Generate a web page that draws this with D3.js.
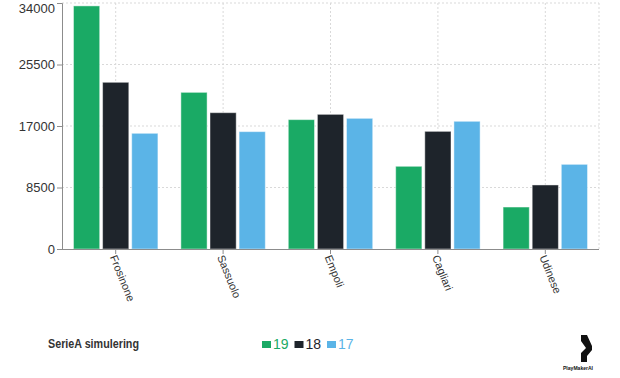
<!DOCTYPE html>
<html lang="en">
<head>
    <meta charset="UTF-8">
    <title>SerieA simulering</title>
    <script src="https://d3js.org/d3.v7.min.js"></script>
    <style>
        body {
            margin: 0;
            background-color: #ffffff;
            font-family: "Liberation Sans", Arial, sans-serif;
        }
        .grid line {
            stroke: #d9d9d9;
            stroke-dasharray: 2,2;
        }
        .axis path, .axis line {
            stroke: #8c8c8c;
        }
        .axis text {
            fill: #333;
        }
    </style>
</head>
<body>
    <div id="chart"></div>
    <script>
        // Data
        const teams = ["Frosinone", "Sassuolo", "Empoli", "Cagliari", "Udinese"];
        const seasons = ["19", "18", "17"];
        const values19 = [33600, 21650, 17880, 11430, 5800];
        const values18 = [23040, 18840, 18610, 16260, 8850];
        const values17 = [15990, 16220, 18060, 17650, 11700];
        const yTicks = [0, 8500, 17000, 25500, 34000];
        const colors = { "19": "#1aaa65", "18": "#1e242b", "17": "#5bb4e7" };

        const seriesValues = { "19": values19, "18": values18, "17": values17 };
        const rows = teams.map((t, i) => ({
            team: t,
            vals: seasons.map(s => ({ key: s, value: seriesValues[s][i] }))
        }));

        const W = 620, H = 378;
        const plotLeft = 62, plotRight = 599, plotTop = 3, plotBottom = 249;

        const svg = d3.select("#chart")
            .append("svg")
            .attr("width", W)
            .attr("height", H);

        const x0 = d3.scaleBand()
            .domain(teams)
            .range([plotLeft, plotRight])
            .paddingInner(0.214)
            .paddingOuter(0.107);

        const x1 = d3.scaleBand()
            .domain(seasons)
            .range([0, x0.bandwidth()])
            .paddingInner(0.1);

        const y = d3.scaleLinear()
            .domain([0, 34000])
            .range([plotBottom, plotTop]);

        // grid
        const grid = svg.append("g").attr("class", "grid");
        grid.selectAll(".hg")
            .data(yTicks.filter(d => d > 0))
            .enter().append("line")
            .attr("x1", plotLeft).attr("x2", plotRight)
            .attr("y1", d => y(d)).attr("y2", d => y(d));
        grid.selectAll(".vg")
            .data(teams)
            .enter().append("line")
            .attr("x1", d => x0(d) + x0.bandwidth() / 2)
            .attr("x2", d => x0(d) + x0.bandwidth() / 2)
            .attr("y1", plotTop).attr("y2", plotBottom);
        grid.append("line")
            .attr("x1", plotRight).attr("x2", plotRight)
            .attr("y1", plotTop).attr("y2", plotBottom);

        // bars
        const groups = svg.append("g")
            .selectAll("g")
            .data(rows)
            .enter().append("g")
            .attr("transform", d => `translate(${x0(d.team)},0)`);

        groups.selectAll("rect")
            .data(d => d.vals)
            .enter().append("rect")
            .attr("x", d => x1(d.key))
            .attr("y", d => y(d.value))
            .attr("width", x1.bandwidth())
            .attr("height", d => y(0) - y(d.value))
            .attr("fill", d => colors[d.key])
            .attr("stroke", "rgba(255,255,255,0.45)")
            .attr("stroke-width", 1);

        // y axis
        const yAxis = svg.append("g")
            .attr("class", "axis")
            .attr("transform", `translate(${plotLeft},0)`)
            .call(d3.axisLeft(y).tickValues(yTicks).tickSize(5).tickPadding(2).tickFormat(d3.format("d")));
        yAxis.selectAll("text")
            .style("font-size", "13px")
            .attr("dy", d => d === 34000 ? "0.75em" : "0.32em");

        // x axis
        const xAxis = svg.append("g")
            .attr("class", "axis")
            .attr("transform", `translate(0,${plotBottom})`)
            .call(d3.axisBottom(x0).tickSize(5).tickSizeOuter(0));
        xAxis.select(".domain").attr("d", `M${plotLeft},0.5H${plotRight}`);
        xAxis.selectAll("text")
            .style("font-size", "11px")
            .attr("text-anchor", "start")
            .attr("dy", "0")
            .attr("x", 0)
            .attr("y", 0)
            .attr("transform", "translate(-6,8) rotate(68)");

        // footer
        svg.append("text")
            .attr("x", 48)
            .attr("y", 348)
            .attr("fill", "#333")
            .attr("textLength", 91)
            .attr("lengthAdjust", "spacingAndGlyphs")
            .style("font-size", "13px")
            .style("font-weight", "600")
            .text("SerieA simulering");

        const legend = svg.append("g")
            .selectAll("g")
            .data(seasons)
            .enter().append("g")
            .attr("transform", (d, i) => `translate(${262 + i * 32.5},0)`);
        legend.append("rect")
            .attr("x", 0).attr("y", 341)
            .attr("width", 9).attr("height", 7)
            .attr("fill", d => colors[d]);
        legend.append("text")
            .attr("x", 11).attr("y", 348.5)
            .attr("fill", d => colors[d])
            .style("font-size", "14px")
            .text(d => d);

        // logo
        const logo = svg.append("g");
        logo.append("path")
            .attr("d", "M581,335 L587,335 L592,346 L592,350 L587,356 L587,362 L581,362 L581,353 L586,348 L581,341 Z")
            .attr("fill", "#111");
        logo.append("text")
            .attr("x", 578).attr("y", 370)
            .attr("text-anchor", "middle")
            .attr("fill", "#111")
            .attr("textLength", 30)
            .attr("lengthAdjust", "spacingAndGlyphs")
            .style("font-size", "6px")
            .style("font-weight", "600")
            .text("PlayMakerAI");
    </script>
</body>
</html>
